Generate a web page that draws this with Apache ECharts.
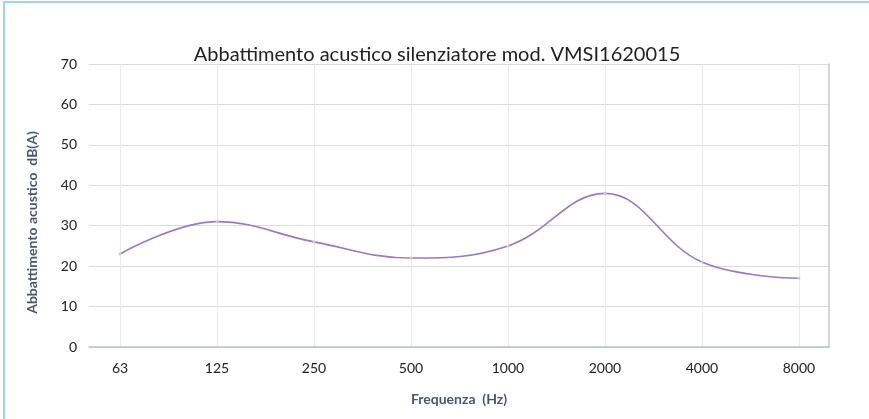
<!DOCTYPE html>
<html><head><meta charset="utf-8">
<script src="https://cdn.jsdelivr.net/npm/echarts@6/dist/echarts.min.js"></script>
<style>
html,body{margin:0;padding:0;background:#fff;}
#c{width:869px;height:419px;position:relative;}
#frame{position:absolute;left:3px;top:1px;width:900px;height:500px;border-left:2px solid #9fd8d8;border-top:2px solid #9fd8d8;pointer-events:none;}
</style></head>
<body>
<div id="c"></div><div id="frame"></div>
<script>
const titleText = 'Abbattimento acustico silenziatore mod. VMSI1620015';
const categories = ['63','125','250','500','1000','2000','4000','8000'];
const values = [23, 31, 26, 22, 25, 38, 21, 17];
const yTicks = [0,10,20,30,40,50,60,70];
const xName = 'Frequenza  (Hz)';
const yName = 'Abbattimento acustico  dB(A)';

const font = 'Lato, "Open Sans", sans-serif';
const idx = categories.map((c,i)=>i);
const chart = echarts.init(document.getElementById('c'), null, {renderer:'canvas'});
chart.setOption({
  animation:false,
  backgroundColor:'#fff',
  title:{text:titleText,left:432,top:40,textAlign:'center',
    textStyle:{fontFamily:font,fontSize:20,fontWeight:'normal',color:'#222'}},
  grid:{left:89,right:40,top:64,bottom:72},
  xAxis:{type:'value',min:-0.32,max:7.31,
    name:xName,nameLocation:'middle',nameGap:45,
    nameTextStyle:{fontFamily:font,fontSize:14,fontWeight:'bold',color:'#4a5670'},
    axisLine:{show:true,lineStyle:{color:'#bcc0c6',width:1.5}},
    axisTick:{show:false,customValues:idx},
    axisLabel:{customValues:idx,margin:14,fontFamily:font,fontSize:14,color:'#222',
      formatter:v=>categories[Math.round(v)]},
    splitLine:{show:true,lineStyle:{color:'#e8eaec',width:1}}
  },
  yAxis:[{type:'value',min:yTicks[0],max:yTicks[yTicks.length-1],interval:10,
    name:yName,nameLocation:'middle',nameGap:50,nameRotate:90,
    nameTextStyle:{fontFamily:font,fontSize:14,fontWeight:'bold',color:'#4a5670',padding:[0,34,0,0]},
    axisLine:{show:false},axisTick:{show:false},
    axisLabel:{margin:12,fontFamily:font,fontSize:14,color:'#222'},
    splitLine:{show:true,lineStyle:{color:'#d9dcdf',width:1}}
  },{type:'value',min:0,max:70,position:'right',
    axisLine:{show:true,lineStyle:{color:'#c4c7cb',width:1.5}},
    axisTick:{show:false},axisLabel:{show:false},splitLine:{show:false}}],
  series:[{type:'line',smooth:0.4,smoothConstraint:false,
    data:values.map((v,i)=>[i,v]),
    symbol:'circle',symbolSize:3,showSymbol:true,
    itemStyle:{color:'#cfc8d8'},
    lineStyle:{color:'#9a7ab8',width:1.6}
  }]
});
</script>
</body></html>
